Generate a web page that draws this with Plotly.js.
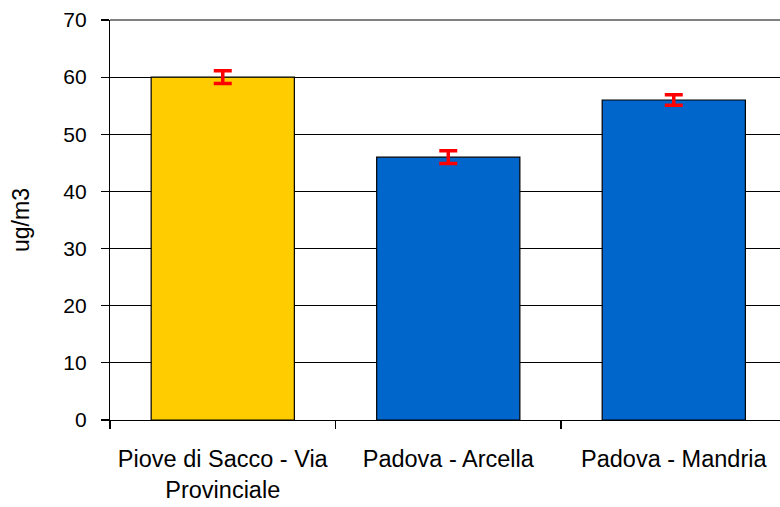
<!DOCTYPE html>
<html>
<head>
<meta charset="utf-8">
<script src="https://cdn.plot.ly/plotly-3.0.1.min.js"></script>
<style>html,body{margin:0;padding:0;background:#fff;}#chart{width:780px;height:507px;}</style>
</head>
<body>
<div id="chart"></div>
<script>
var categories = ["Piove di Sacco - Via<br>Provinciale", "Padova - Arcella", "Padova - Mandria"];
var values = [60, 46, 56];
var errors = [1.1, 1.1, 0.9];
var barColors = ["#FFCC00", "#0066CC", "#0066CC"];
var yTicks = [0, 10, 20, 30, 40, 50, 60, 70];

var trace = {
  type: "bar",
  x: categories,
  y: values,
  width: 0.635,
  marker: {color: barColors, line: {color: "#000000", width: 1.2}},
  error_y: {type: "data", array: errors, visible: true, color: "#FF0000", thickness: 3.5, width: 9},
  hoverinfo: "none"
};

var layout = {
  width: 780, height: 507,
  margin: {l: 110, r: 0, t: 20, b: 87, pad: 0},
  paper_bgcolor: "#ffffff", plot_bgcolor: "#ffffff",
  font: {family: "Liberation Sans, Arial, sans-serif", color: "#000000", size: 20},
  showlegend: false,
  xaxis: {
    type: "category",
    range: [-0.5, 2.471],
    tickson: "boundaries",
    ticks: "outside", ticklen: 8, tickcolor: "#000000", tickwidth: 1.2,
    ticklabelstandoff: 18,
    showline: true, linecolor: "#000000", linewidth: 1.2,
    showgrid: false, zeroline: false,
    tickfont: {size: 23.5, family: "Liberation Sans, Arial, sans-serif", color: "#000000"},
    fixedrange: true
  },
  yaxis: {
    range: [0, 70],
    tickvals: yTicks,
    ticktext: yTicks.map(String),
    ticks: "outside", ticklen: 8, tickcolor: "#000000", tickwidth: 1.2,
    ticklabelstandoff: 10,
    showline: true, linecolor: "#000000", linewidth: 1.2,
    showgrid: true, gridcolor: "#000000", gridwidth: 1,
    zeroline: false,
    tickfont: {size: 21, family: "Liberation Sans, Arial, sans-serif", color: "#000000"},
    title: {text: "ug/m3", font: {size: 23, family: "Liberation Sans, Arial, sans-serif", color: "#000000"}, standoff: 27},
    fixedrange: true
  },
  shapes: [{type: "line", xref: "paper", yref: "paper", x0: 0, x1: 1, y0: 1, y1: 1, line: {color: "#808080", width: 2}}]
};

Plotly.newPlot("chart", [trace], layout, {displayModeBar: false, staticPlot: true});
</script>
</body>
</html>
